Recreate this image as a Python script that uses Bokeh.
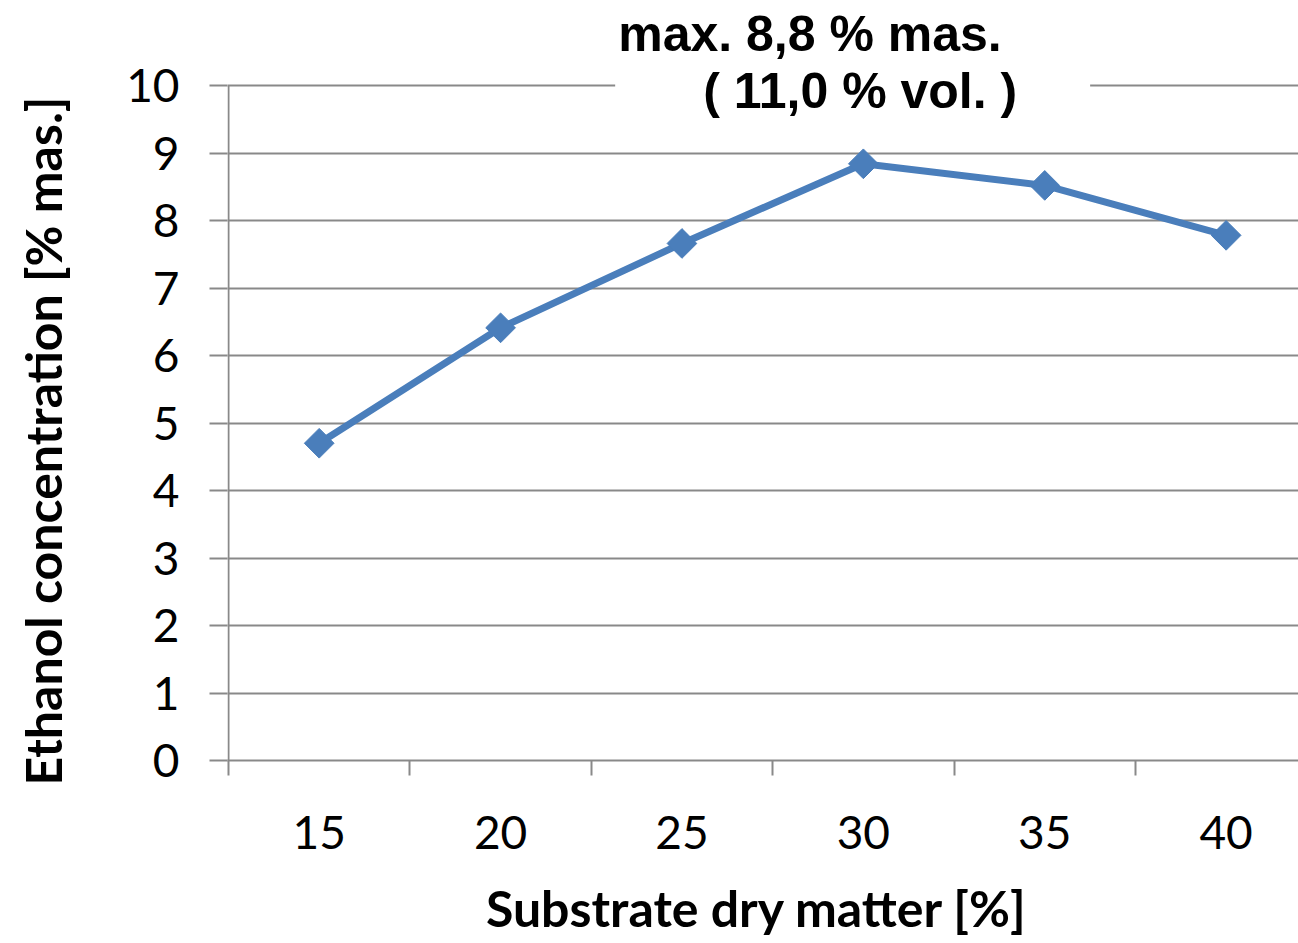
from bokeh.plotting import figure
from bokeh.models import Range1d, FixedTicker, Label, Title
from bokeh.embed import file_html
from bokeh.resources import INLINE

# ---- data ----
categories = ["15", "20", "25", "30", "35", "40"]
ethanol = [4.70, 6.41, 7.66, 8.84, 8.52, 7.78]
y_ticks = [0, 1, 2, 3, 4, 5, 6, 7, 8, 9, 10]
annot_line1 = "max. 8,8 % mas."
annot_line2 = "( 11,0 % vol. )"
x_title = "Substrate dry matter  [%]"
y_title = "Ethanol concentration [% mas.]"

idx = list(range(len(categories)))

GRID = "#898989"
BLUE = "#4A7EBB"
TICK_FONT = "Lato"
PX_X = 181.4   # pixels per category
PX_Y = 67.5    # pixels per y unit

p = figure(width=1298, height=943, output_backend="svg", toolbar_location=None,
           x_range=Range1d(-0.5 - 1 / PX_X, 5.399),
           y_range=Range1d(0, 760 / PX_Y),
           min_border_left=227, min_border_right=0, min_border_top=0,
           min_border_bottom=183, outline_line_color=None,
           background_fill_color="white", border_fill_color="white")

# grid
p.xgrid.grid_line_color = None
p.ygrid.ticker = FixedTicker(ticks=y_ticks)
p.ygrid.grid_line_color = GRID
p.ygrid.grid_line_width = 2

# x axis
xa = p.xaxis[0]
xa.ticker = FixedTicker(ticks=idx, minor_ticks=[i - 0.5 for i in idx])
xa.major_label_overrides = {i: c for i, c in zip(idx, categories)}
xa.major_tick_out = 0
xa.major_tick_in = 0
xa.minor_tick_out = 15
xa.minor_tick_in = 0
xa.minor_tick_line_color = GRID
xa.minor_tick_line_width = 2
xa.axis_line_color = GRID
xa.axis_line_width = 2
xa.major_label_text_font = TICK_FONT
xa.major_label_text_font_size = "46px"
xa.major_label_text_color = "black"
xa.major_label_standoff = 40
xa.axis_label = x_title
xa.axis_label_text_font = TICK_FONT
xa.axis_label_text_font_style = "bold"
xa.axis_label_text_font_size = "50px"
xa.axis_label_text_color = "black"
xa.axis_label_standoff = 26

# y axis (line drawn separately so it stops at 10)
ya = p.yaxis[0]
ya.ticker = FixedTicker(ticks=y_ticks)
ya.major_tick_out = 18
ya.major_tick_in = 0
ya.major_tick_line_color = GRID
ya.major_tick_line_width = 2
ya.minor_tick_line_color = None
ya.axis_line_color = None
ya.major_label_text_font = TICK_FONT
ya.major_label_text_font_size = "46px"
ya.major_label_text_color = "black"
ya.major_label_standoff = 30

ytitle = Title(text=y_title, align="left", offset=-65, standoff=18,
               vertical_align="top",
               text_font=TICK_FONT, text_font_style="bold",
               text_font_size="50px", text_color="black")
ytitle.padding = (40, 0, 0, 0)
p.add_layout(ytitle, "left")

p.segment(x0=[-0.5], y0=[y_ticks[0]], x1=[-0.5], y1=[y_ticks[-1]],
          line_color=GRID, line_width=2)

# white box behind the annotation (breaks the top gridline)
p.quad(left=[(615 - 319) / PX_X], right=[(1090 - 319) / PX_X],
       bottom=[9.9], top=[10.1], fill_color="white", line_color=None)

# series
p.line(idx, ethanol, line_color=BLUE, line_width=7)
p.scatter(idx, ethanol, marker="square", angle=0.785398, size=21,
          fill_color=BLUE, line_color=BLUE)

# annotation
for txt, xpx, ypx in [(annot_line1, 618, 33), (annot_line2, 703, 90)]:
    p.add_layout(Label(x=(xpx - 319) / PX_X, y=(760 - ypx) / PX_Y, text=txt,
                       text_font="Liberation Sans", text_font_style="bold",
                       text_font_size="50px", text_color="black",
                       text_align="left", text_baseline="alphabetic"))

open("out.html", "w").write(file_html(p, INLINE))
